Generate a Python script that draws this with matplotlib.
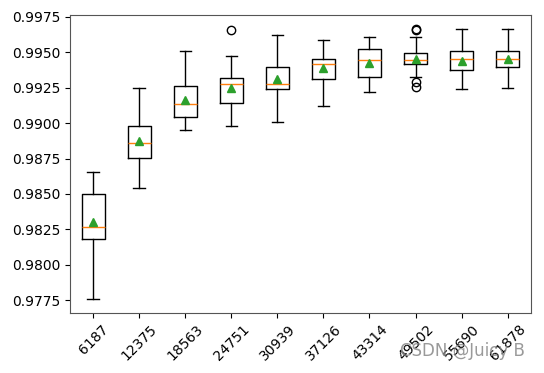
import matplotlib
matplotlib.use("Agg")
import matplotlib.pyplot as plt

# training-set sizes on the x axis
sizes = ["6187", "12375", "18563", "24751", "30939",
         "37126", "43314", "49502", "55690", "61878"]

# box statistics
whislo = [0.97759, 0.98545, 0.98952, 0.98981, 0.99009,
          0.99124, 0.99223, 0.99326, 0.99242, 0.99251]
q1 = [0.98183, 0.98757, 0.99046, 0.99145, 0.99242,
      0.99310, 0.99329, 0.99416, 0.99374, 0.99395]
med = [0.98270, 0.98863, 0.99134, 0.99279, 0.99279,
       0.99416, 0.99444, 0.99444, 0.99453, 0.99453]
q3 = [0.98503, 0.98978, 0.99263, 0.99319, 0.99397,
      0.99456, 0.99524, 0.99496, 0.99512, 0.99512]
whishi = [0.98658, 0.99250, 0.99512, 0.99472, 0.99623,
          0.99590, 0.99611, 0.99609, 0.99665, 0.99665]
means = [0.98300, 0.98872, 0.99164, 0.99251, 0.99310,
         0.99388, 0.99423, 0.99453, 0.99441, 0.99456]
fliers = [[], [], [], [0.99658], [], [], [],
          [0.99665, 0.99660, 0.99290, 0.99255], [], []]

stats = []
for i in range(len(sizes)):
    stats.append({
        "label": sizes[i], "whislo": whislo[i], "q1": q1[i], "med": med[i],
        "q3": q3[i], "whishi": whishi[i], "mean": means[i], "fliers": fliers[i],
    })

fig, ax = plt.subplots(figsize=(5.44, 3.73), dpi=100)
fig.subplots_adjust(left=0.129, right=0.9755, top=0.96, bottom=0.162)

ax.bxp(stats, showmeans=True)
ax.set_ylim(0.97663, 0.99764)
ax.set_yticks([0.9775, 0.9800, 0.9825, 0.9850, 0.9875,
               0.9900, 0.9925, 0.9950, 0.9975])
ax.set_yticklabels([f"{t:.4f}" for t in ax.get_yticks()])
plt.setp(ax.get_xticklabels(), rotation=45)

for s in ax.spines.values():
    s.set_color("#555555")

# watermark
fig.text(0.735, 0.045, "CSDN @Juicy B", fontsize=12, color="#888888", alpha=0.85)

fig.savefig("out.png", dpi=100)
